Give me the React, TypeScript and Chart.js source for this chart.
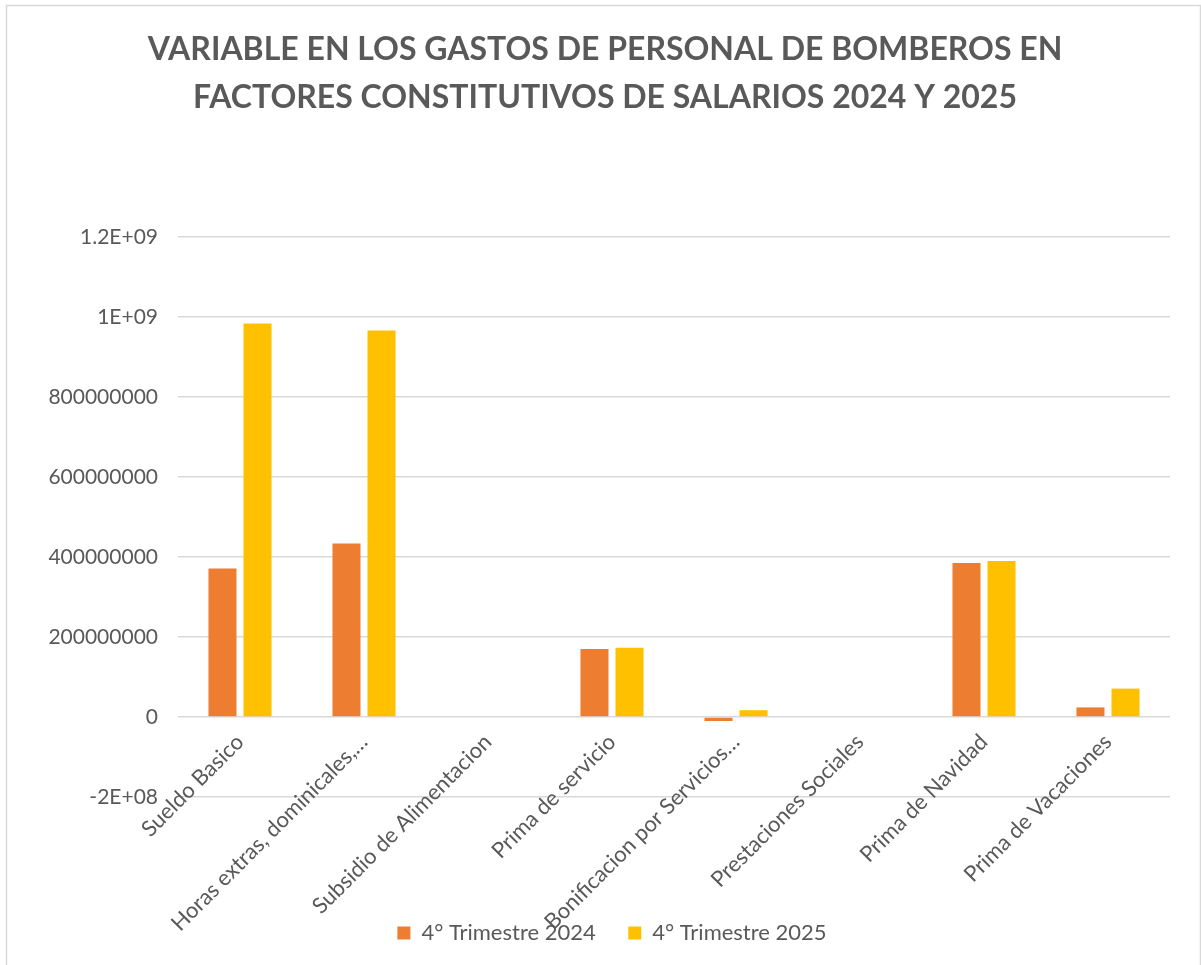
import React, { useEffect, useRef } from "react";
import { Chart, registerables } from "chart.js";

Chart.register(...registerables);

const categories = [
  "Sueldo Basico",
  "Horas extras, dominicales,…",
  "Subsidio de Alimentacion",
  "Prima de servicio",
  "Bonificacion por Servicios…",
  "Prestaciones Sociales",
  "Prima de Navidad",
  "Prima de Vacaciones",
];

const trimestre2024 = [371000000, 434000000, 0, 170000000, -10000000, 0, 385000000, 24000000];
const trimestre2025 = [984000000, 966000000, 0, 173000000, 17000000, 0, 390000000, 71000000];

const seriesLabels = ["4° Trimestre 2024", "4° Trimestre 2025"];
const titleLines = [
  "VARIABLE EN LOS GASTOS DE PERSONAL DE BOMBEROS EN",
  "FACTORES CONSTITUTIVOS DE SALARIOS 2024 Y 2025",
];

const yMin = -200000000;
const yMax = 1200000000;
const yStep = 200000000;

const tickLabel = (v: number) => {
  if (v === 1200000000) return "1.2E+09";
  if (v === 1000000000) return "1E+09";
  if (v === -200000000) return "-2E+08";
  return String(v);
};

const FONT = "Lato, 'Open Sans', sans-serif";
const TEXT = "#595959";
const GRID = "#D9D9D9";

const frame = {
  id: "frame",
  afterLayout(chart: any) {
    if (chart.legend) {
      chart.legend.left += 13;
      chart.legend.right += 13;
    }
    if (chart.titleBlock) {
      chart.titleBlock.left += 6;
      chart.titleBlock.right += 6;
    }
  },
  beforeDraw(chart: any) {
    const ctx = chart.ctx;
    ctx.save();
    ctx.fillStyle = "#ffffff";
    ctx.fillRect(0, 0, chart.width, chart.height);
    ctx.strokeStyle = "#D9D9D9";
    ctx.lineWidth = 1.5;
    ctx.strokeRect(6.5, 5.5, 1194, 1000);
    ctx.restore();
  },
};

export default function App() {
  const ref = useRef<HTMLCanvasElement | null>(null);
  useEffect(() => {
    document.body.style.margin = "0";
    const chart = new Chart(ref.current as HTMLCanvasElement, {
      type: "bar",
      data: {
        labels: categories,
        datasets: [
          {
            label: seriesLabels[0],
            data: trimestre2024,
            backgroundColor: "#ED7D31",
            categoryPercentage: 0.565,
            barPercentage: 0.8,
          },
          {
            label: seriesLabels[1],
            data: trimestre2025,
            backgroundColor: "#FFC000",
            categoryPercentage: 0.565,
            barPercentage: 0.8,
          },
        ],
      },
      options: {
        animation: false,
        responsive: false,
        maintainAspectRatio: false,
        layout: { padding: { left: 28, right: 31, top: 0, bottom: 11 } },
        plugins: {
          tooltip: { enabled: false },
          title: {
            display: true,
            text: titleLines,
            color: TEXT,
            font: { family: FONT, size: 32, weight: "bold", lineHeight: 1.5 },
            padding: { top: 26, bottom: 115 },
          },
          legend: {
            position: "bottom",
            labels: {
              color: TEXT,
              font: { family: FONT, size: 22 },
              boxWidth: 13,
              boxHeight: 13,
              padding: 10,
              generateLabels: (c: any) =>
                Chart.defaults.plugins.legend.labels
                  .generateLabels(c)
                  .map((l: any, i: number) =>
                    i === 0 ? { ...l, text: l.text + "    " } : l
                  ),
            },
          },
        },
        scales: {
          x: {
            position: { y: 0 } as any,
            grid: { display: false },
            border: { display: false },
            ticks: {
              color: TEXT,
              font: { family: FONT, size: 22 },
              minRotation: 45,
              maxRotation: 45,
              autoSkip: false,
              padding: 4,
            },
          },
          x2: {
            type: "category",
            labels: categories,
            position: "bottom",
            display: true,
            grid: { display: false },
            border: { display: false },
            ticks: { display: false },
            afterFit: (s: any) => {
              s.height = 115;
            },
          } as any,
          y: {
            min: yMin,
            max: yMax,
            grid: { color: GRID, lineWidth: 1.5, drawTicks: false },
            border: { display: false },
            ticks: {
              stepSize: yStep,
              color: TEXT,
              font: { family: FONT, size: 21 },
              padding: 20,
              callback: (v: any) => tickLabel(Number(v)),
            },
            afterFit: (s: any) => {
              s.width = 150;
            },
          },
        },
      },
      plugins: [frame],
    });
    return () => chart.destroy();
  }, []);
  return (
    <div style={{ width: 1201, height: 965, position: "relative" }}>
      <canvas ref={ref} width={1201} height={965} style={{ display: "block" }} />
    </div>
  );
}
